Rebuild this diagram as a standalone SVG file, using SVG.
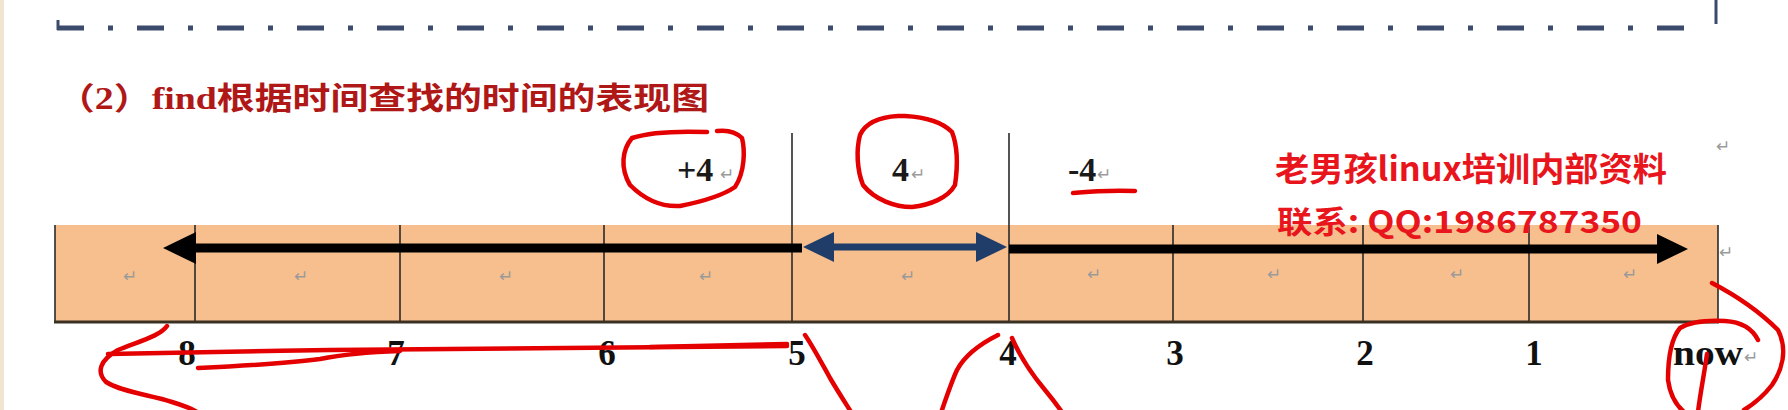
<svg xmlns="http://www.w3.org/2000/svg" width="1788" height="410" viewBox="0 0 1788 410">
<style>
.cell{fill:#f7bf8e;}
.div{stroke:#2a2a2a;stroke-width:1.6;}
.num{font-family:"Liberation Serif","DejaVu Serif",serif;font-weight:bold;font-size:35px;fill:#111;text-anchor:middle;}
.lab{font-family:"Liberation Serif","DejaVu Serif",serif;font-weight:bold;font-size:34px;fill:#1a1a1a;}
.ret{font-family:"DejaVu Sans",sans-serif;font-size:17px;fill:#9a9a9a;}
.pen{fill:none;stroke:#e40000;stroke-width:4.5;stroke-linecap:round;stroke-linejoin:round;}
.wm{font-family:"Noto Sans CJK SC","Liberation Sans",sans-serif;font-weight:bold;fill:#e8161c;}
</style>
<rect x="0" y="0" width="1788" height="410" fill="#ffffff"/>
<rect x="0" y="0" width="4" height="410" fill="#efe5d0"/>

<g id="frame">
<path d="M57,28 H1699" stroke="#3c4b6b" stroke-width="5" stroke-dasharray="27 24 5 24"/>
<line x1="58" y1="20" x2="58" y2="30" stroke="#3c4b6b" stroke-width="3"/>
<line x1="1716" y1="0" x2="1716" y2="24" stroke="#3c4b6b" stroke-width="3"/>
</g>

<g id="title">
<text x="57" y="109" font-family="Liberation Serif,Noto Sans CJK SC,serif" font-size="31" font-weight="bold" fill="#b01818" textLength="652" lengthAdjust="spacingAndGlyphs">（2）find根据时间查找的时间的表现图</text>
</g>

<g id="timeline">
<rect class="cell" x="55" y="225" width="1663" height="97"/>
<line class="div" x1="55" y1="225" x2="55" y2="322"/>
<line class="div" x1="195" y1="225" x2="195" y2="322"/>
<line class="div" x1="400" y1="225" x2="400" y2="322"/>
<line class="div" x1="604" y1="225" x2="604" y2="322"/>
<line class="div" x1="792" y1="133" x2="792" y2="322"/>
<line class="div" x1="1009" y1="133" x2="1009" y2="322"/>
<line class="div" x1="1173" y1="225" x2="1173" y2="322"/>
<line class="div" x1="1363" y1="225" x2="1363" y2="322"/>
<line class="div" x1="1529" y1="225" x2="1529" y2="322"/>
<line class="div" x1="1718" y1="225" x2="1718" y2="322"/>
<line x1="54" y1="322" x2="1719" y2="322" stroke="#3b3024" stroke-width="3"/>
<text class="ret" x="123" y="282">↵</text>
<text class="ret" x="294" y="282">↵</text>
<text class="ret" x="499" y="282">↵</text>
<text class="ret" x="699" y="282">↵</text>
<text class="ret" x="901" y="282">↵</text>
<text class="ret" x="1087" y="280">↵</text>
<text class="ret" x="1267" y="280">↵</text>
<text class="ret" x="1450" y="280">↵</text>
<text class="ret" x="1623" y="280">↵</text>
</g>

<g id="labels">
<text class="lab" x="677" y="181">+4</text><text class="ret" x="720" y="180">↵</text>
<text class="lab" x="892" y="181">4</text><text class="ret" x="911" y="180">↵</text>
<text class="lab" x="1068" y="181">-4</text><text class="ret" x="1097" y="180">↵</text>
<text class="ret" x="1716" y="152">↵</text>
<text class="ret" x="1719" y="258">↵</text>
</g>

<g id="scale">
<text class="num" x="187" y="365">8</text>
<text class="num" x="396" y="365">7</text>
<text class="num" x="607" y="365">6</text>
<text class="num" x="797" y="365">5</text>
<text class="num" x="1008" y="365">4</text>
<text class="num" x="1175" y="365">3</text>
<text class="num" x="1365" y="365">2</text>
<text class="num" x="1534" y="365">1</text>
<text class="num" x="1673" y="365" style="text-anchor:start" textLength="70" lengthAdjust="spacingAndGlyphs">now</text>
<text class="ret" x="1744" y="363">↵</text>
</g>

<g id="connectors">
<line x1="802" y1="248" x2="192" y2="248" stroke="#000" stroke-width="9"/>
<polygon points="163,248 196,232 196,264" fill="#000"/>
<line x1="1009" y1="249" x2="1662" y2="249" stroke="#000" stroke-width="9"/>
<polygon points="1688,249 1657,234 1657,264" fill="#000"/>
<line x1="828" y1="247" x2="982" y2="247" stroke="#1f3d68" stroke-width="7"/>
<polygon points="803,247 834,232 834,262" fill="#1f3d68"/>
<polygon points="1007,247 976,232 976,262" fill="#1f3d68"/>
</g>

<g id="watermark">
<text class="wm" x="1275" y="181" font-size="33" textLength="392" lengthAdjust="spacingAndGlyphs">老男孩linux培训内部资料</text>
<text class="wm" x="1277" y="233" font-size="31" textLength="365" lengthAdjust="spacingAndGlyphs">联系: QQ:1986787350</text>
</g>

<g id="annotations">
<path class="pen" d="M707,132 C680,131 650,132 632,138 C622,150 620,168 630,185 C645,200 662,207 680,206 C700,202 722,196 735,187 C745,172 745,150 742,138 C735,131 725,130 717,131"/>
<path class="pen" d="M898,116 C880,117 866,122 860,135 C856,150 857,170 863,185 C875,200 895,207 912,207 C930,205 948,198 955,185 C958,165 957,145 952,132 C942,122 925,117 905,116 Z"/>
<path class="pen" d="M1073,193 C1095,191 1115,190 1135,191" stroke-width="5"/>
<path class="pen" d="M167,326 C160,336 140,341 118,350 C100,360 96,372 106,382 C122,392 150,395 172,402 C185,406 195,410 200,414"/>
<path class="pen" d="M108,354 C200,352 260,351 330,350 C450,349 600,347 787,346" stroke-width="6"/>
<path class="pen" d="M198,368 C240,366 290,363 320,359 C345,354 370,352 400,351" stroke-width="5"/>
<path class="pen" d="M650,347 C700,346 750,345 787,344" stroke-width="8"/>
<path class="pen" d="M805,335 C812,345 820,360 830,378 C840,395 850,410 856,420"/>
<path class="pen" d="M937,424 C944,405 950,385 957,370 C965,355 980,344 998,335"/>
<path class="pen" d="M1012,338 C1018,352 1030,372 1045,390 C1055,402 1062,412 1066,418"/>
<path class="pen" d="M1712,283 C1735,295 1760,312 1778,330 C1788,350 1782,370 1772,385 C1762,398 1752,405 1744,410"/>
<path class="pen" d="M1758,340 C1752,328 1742,322 1725,321 C1705,320 1690,322 1680,328 C1670,340 1668,360 1668,380 C1670,395 1676,405 1684,412"/>
<path class="pen" d="M1707,354 C1704,375 1700,395 1698,412"/>
</g>
</svg>
